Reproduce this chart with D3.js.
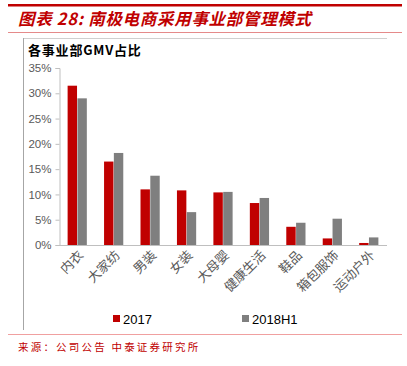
<!DOCTYPE html>
<html>
<head>
<meta charset="utf-8">
<script src="https://cdn.jsdelivr.net/npm/d3@7"></script>
<style>
  body { margin: 0; background: #fff; }
  svg { display: block; }
</style>
</head>
<body>
<svg id="chart"></svg>
<script>
var w = 407;
var h = 366;

// data
var categories = ["内衣", "大家纺", "男装", "女装", "大母婴", "健康生活", "鞋品", "箱包服饰", "运动户外"];
var values2017 = [31.5, 16.5, 11.0, 10.8, 10.4, 8.3, 3.6, 1.3, 0.4];
var values2018H1 = [29.0, 18.2, 13.7, 6.5, 10.5, 9.3, 4.4, 5.2, 1.5];
var seriesNames = ["2017", "2018H1"];
var seriesColors = ["#c00000", "#7f7f7f"];
var yTicks = [0, 5, 10, 15, 20, 25, 30, 35];

var cjk = "'Noto Sans CJK SC', 'Noto Sans', sans-serif";

var svg = d3.select("#chart")
    .attr("width", w)
    .attr("height", h);

// header lines and title
svg.append("rect").attr("x", 8).attr("y", 4).attr("width", 394).attr("height", 2.5).attr("fill", "#c00000");
svg.append("text")
    .attr("x", 18).attr("y", 25)
    .attr("font-family", cjk)
    .attr("font-size", 16.5)
    .attr("font-weight", "bold")
    .attr("font-style", "italic")
    .attr("letter-spacing", 0.7)
    .attr("fill", "#c00000")
    .text("图表 28:  南极电商采用事业部管理模式");
svg.append("line").attr("x1", 8).attr("x2", 402).attr("y1", 32.5).attr("y2", 32.5)
    .attr("stroke", "#e58a8a").attr("stroke-width", 1);

// frame
svg.append("line").attr("x1", 23).attr("x2", 387).attr("y1", 38.5).attr("y2", 38.5)
    .attr("stroke", "#d0d0d0");
svg.append("line").attr("x1", 23.5).attr("x2", 23.5).attr("y1", 38).attr("y2", 330)
    .attr("stroke", "#a6a6a6");

svg.append("text")
    .attr("x", 28).attr("y", 55)
    .attr("font-family", cjk)
    .attr("font-size", 13)
    .attr("font-weight", "bold")
    .attr("letter-spacing", 0.8)
    .attr("fill", "#000")
    .text("各事业部GMV占比");

// scales
var x0 = d3.scaleBand().domain(categories).range([59, 387]).paddingInner(0).paddingOuter(0);
var x1 = d3.scaleBand().domain(seriesNames).range([x0.bandwidth() / 2 - 10, x0.bandwidth() / 2 + 10]).padding(0.04);
var y = d3.scaleLinear().domain([0, 35]).range([245, 68]);

// y axis
var yAxis = d3.axisLeft(y).tickValues(yTicks).tickSize(4).tickPadding(4)
    .tickFormat(function (d) { return d + "%"; });
var gy = svg.append("g").attr("transform", "translate(59.5,0)").call(yAxis);
gy.select(".domain").attr("stroke", "#bfbfbf");
gy.selectAll(".tick line").attr("stroke", "#bfbfbf");
gy.selectAll(".tick text")
    .attr("font-family", "Arial, 'Liberation Sans', sans-serif")
    .attr("font-size", 11.5)
    .attr("fill", "#595959");

// bars
var rows = categories.map(function (c, i) {
    return { cat: c, vals: [values2017[i], values2018H1[i]] };
});
var groups = svg.selectAll("g.grp")
    .data(rows)
    .enter()
    .append("g")
    .attr("class", "grp")
    .attr("transform", function (d) { return "translate(" + x0(d.cat) + ",0)"; });
groups.selectAll("rect")
    .data(function (d) { return d.vals.map(function (v, j) { return { name: seriesNames[j], v: v, j: j }; }); })
    .enter()
    .append("rect")
    .attr("x", function (d) { return x1(d.name); })
    .attr("width", x1.bandwidth())
    .attr("y", function (d) { return y(d.v); })
    .attr("height", function (d) { return y(0) - y(d.v); })
    .attr("fill", function (d) { return seriesColors[d.j]; });

// x axis baseline
svg.append("line").attr("x1", 59).attr("x2", 387).attr("y1", 245.5).attr("y2", 245.5)
    .attr("stroke", "#bfbfbf");

// category labels
svg.selectAll("text.cat")
    .data(categories)
    .enter()
    .append("text")
    .attr("class", "cat")
    .attr("text-anchor", "end")
    .attr("font-family", cjk)
    .attr("font-size", 13)
    .attr("fill", "#595959")
    .attr("transform", function (d) {
        var cx = x0(d) + x0.bandwidth() / 2 + 7;
        return "translate(" + cx + ",256) rotate(-45)";
    })
    .text(function (d) { return d; });

// legend
var legendX = [113, 242];
seriesNames.forEach(function (name, i) {
    svg.append("rect").attr("x", legendX[i]).attr("y", 315).attr("width", 7).attr("height", 7)
        .attr("fill", seriesColors[i]);
    svg.append("text")
        .attr("x", legendX[i] + 10).attr("y", 323.5)
        .attr("font-family", "Arial, 'Liberation Sans', sans-serif")
        .attr("font-size", 13)
        .attr("fill", "#000")
        .text(name);
});

// footer
svg.append("line").attr("x1", 8).attr("x2", 402).attr("y1", 334.5).attr("y2", 334.5)
    .attr("stroke", "#f0a0a0").attr("stroke-width", 1);
svg.append("text")
    .attr("x", 18).attr("y", 351)
    .attr("font-family", cjk)
    .attr("font-size", 10.5)
    .attr("letter-spacing", 2.2)
    .attr("fill", "#c00000")
    .text("来源：公司公告 中泰证券研究所");
</script>
</body>
</html>
